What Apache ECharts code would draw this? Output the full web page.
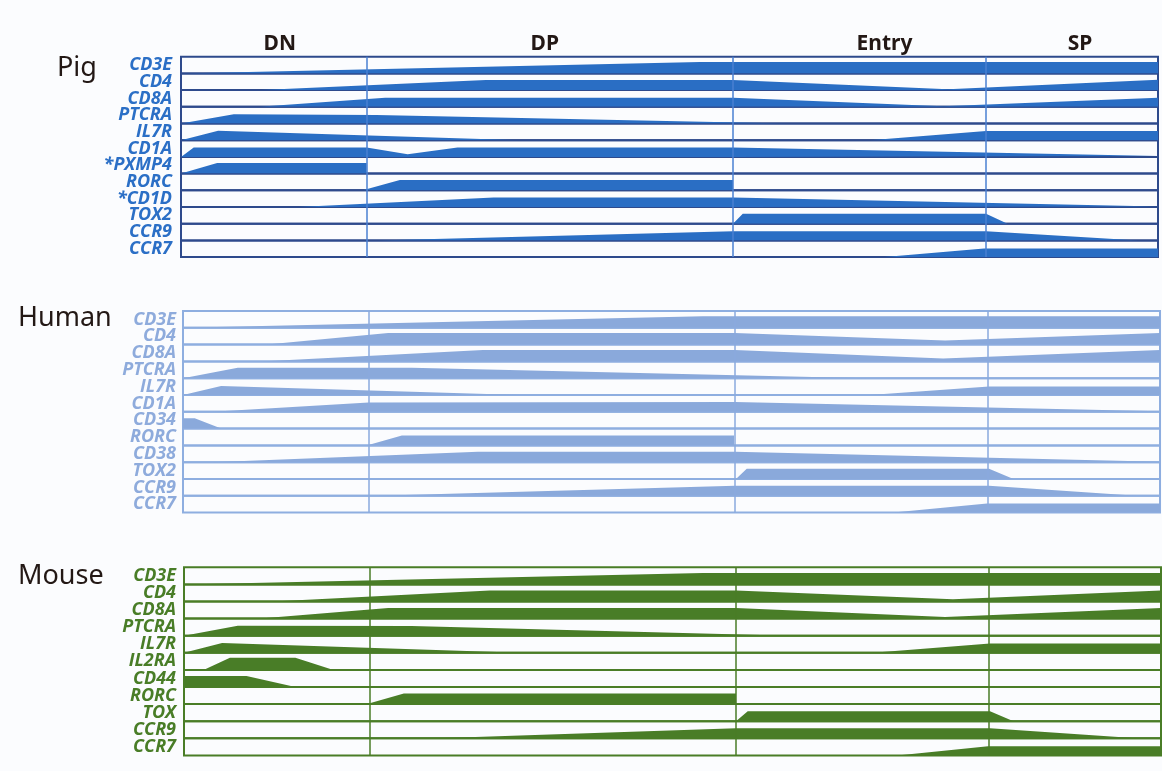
<!DOCTYPE html>
<html>
<head>
<meta charset="utf-8">
<script src="https://cdn.jsdelivr.net/npm/echarts@6/dist/echarts.min.js"></script>
<style>
html, body { margin: 0; background: #fbfcfe; }
#main { width: 1162px; height: 771px; }
</style>
</head>
<body>
<div id="main"></div>
<script>
// stages along pseudotime (0..100)
var stageNames = ['DN', 'DP', 'Entry', 'SP'];
var stageBreaks = [0, 19, 56.5, 82.4, 100];

// expression profiles: [pseudotime, relative level]
var pigGenes = ['CD3E', 'CD4', 'CD8A', 'PTCRA', 'IL7R', 'CD1A', '*PXMP4', 'RORC', '*CD1D', 'TOX2', 'CCR9', 'CCR7'];
var pigProfiles = [
    [[0, 0], [53.1, 1], [100, 1]],
    [[0, 0], [8, 0], [31.2, 0.88], [56.5, 0.88], [78.5, 0.08], [100, 0.9]],
    [[0, 0], [8, 0], [20.9, 0.78], [56.5, 0.78], [78, 0.05], [100, 0.78]],
    [[0, 0], [5.4, 0.8], [20, 0.75], [62, 0], [100, 0]],
    [[0, 0], [3.8, 0.83], [34.8, 0], [70.5, 0], [82.4, 0.8], [100, 0.8]],
    [[0, 0], [1.3, 0.82], [19, 0.82], [23.2, 0.23], [28.3, 0.82], [56.5, 0.82], [100, 0.08]],
    [[0, 0], [3.7, 0.92], [19, 0.92], [19, 0], [100, 0]],
    [[0, 0], [18.6, 0], [22.4, 0.9], [56.5, 0.9], [56.5, 0], [100, 0]],
    [[0, 0], [12, 0], [32, 0.83], [56.5, 0.83], [100, 0.05]],
    [[0, 0], [56.5, 0], [57.5, 0.87], [82.4, 0.87], [84.6, 0], [100, 0]],
    [[0, 0], [20, 0], [56.5, 0.8], [82.4, 0.8], [98, 0], [100, 0]],
    [[0, 0], [71.9, 0], [82.2, 0.75], [100, 0.75]]
];

var humanGenes = ['CD3E', 'CD4', 'CD8A', 'PTCRA', 'IL7R', 'CD1A', 'CD34', 'RORC', 'CD38', 'TOX2', 'CCR9', 'CCR7'];
var humanProfiles = [
    [[0, 0], [53.2, 1], [100, 1]],
    [[0, 0], [8.6, 0], [21, 1], [56.5, 1], [78, 0.35], [100, 1]],
    [[0, 0], [7.9, 0], [30.7, 1], [56.5, 1], [77.8, 0.25], [100, 1]],
    [[0, 0], [5.6, 0.9], [23.4, 0.9], [70, 0], [100, 0]],
    [[0, 0], [3.9, 0.78], [34.5, 0], [70.3, 0], [82.5, 0.75], [100, 0.75]],
    [[0, 0], [3, 0], [19, 0.8], [56.5, 0.85], [100, 0.05]],
    [[0, 0.9], [1.2, 0.9], [3.9, 0], [100, 0]],
    [[0, 0], [18.8, 0], [22.4, 0.87], [56.4, 0.87], [56.4, 0], [100, 0]],
    [[0, 0], [3, 0], [30.2, 0.9], [56.5, 0.9], [100, 0.05]],
    [[0, 0], [56.6, 0], [57.7, 0.9], [82.5, 0.9], [85, 0], [100, 0]],
    [[0, 0], [20, 0], [56.5, 0.87], [82.5, 0.87], [97.6, 0], [100, 0]],
    [[0, 0], [72.7, 0], [82.3, 0.8], [100, 0.8]]
];

var mouseGenes = ['CD3E', 'CD4', 'CD8A', 'PTCRA', 'IL7R', 'IL2RA', 'CD44', 'RORC', 'TOX', 'CCR9', 'CCR7'];
var mouseProfiles = [
    [[0, 0], [53.1, 1], [100, 1]],
    [[0, 0], [9.1, 0], [31.3, 0.95], [56.5, 0.95], [78.7, 0.2], [100, 0.95]],
    [[0, 0], [7.8, 0], [20.9, 0.92], [56.5, 0.92], [77.9, 0.15], [100, 0.92]],
    [[0, 0], [5.5, 0.87], [23.3, 0.85], [62, 0], [100, 0]],
    [[0, 0], [3.9, 0.85], [34.4, 0], [70.5, 0], [82.5, 0.8], [100, 0.8]],
    [[0, 0], [2, 0], [4.7, 1.05], [11.4, 1.05], [15.3, 0], [100, 0]],
    [[0, 0.95], [6.4, 0.95], [11.4, 0], [100, 0]],
    [[0, 0], [18.7, 0], [22.5, 0.93], [56.5, 0.93], [56.5, 0], [100, 0]],
    [[0, 0], [56.5, 0], [57.7, 0.87], [82.5, 0.87], [84.9, 0], [100, 0]],
    [[0, 0], [26, 0], [56.5, 0.87], [82.5, 0.87], [97.5, 0], [100, 0]],
    [[0, 0], [73, 0], [82.3, 0.8], [100, 0.8]]
];

var panels = [
    { name: 'Pig', genes: pigGenes, profiles: pigProfiles, left: 181, right: 4, top: 56.7, rowH: 16.7,
      fill: '#2a6ec4', border: '#2e4a8c', divider: '#4a80d2', label: '#2b6fc6', gap: 9, nameX: 57, nameY: 68, stages: true },
    { name: 'Human', genes: humanGenes, profiles: humanProfiles, left: 183, right: 2, top: 311, rowH: 16.8,
      fill: '#8aa9db', border: '#8eaee0', divider: '#8aaade', label: '#8eabdc', gap: 7, nameX: 18, nameY: 318, stages: false },
    { name: 'Mouse', genes: mouseGenes, profiles: mouseProfiles, left: 184, right: 1, top: 567.3, rowH: 17.1,
      fill: '#497d27', border: '#4a7d27', divider: '#4a7d27', label: '#497d27', gap: 8, nameX: 18, nameY: 576, stages: false }
];

var stageShift = [6, -5, 25, 8];

var chart = echarts.init(document.getElementById('main'), null, { renderer: 'canvas' });

var grids = [], xAxes = [], yAxes = [], series = [], texts = [];

panels.forEach(function (p) {
    p.genes.forEach(function (gene, i) {
        var g = grids.length;
        grids.push({
            left: p.left, right: p.right, top: p.top + i * p.rowH, height: p.rowH,
            show: true, borderColor: p.border, borderWidth: 2, backgroundColor: 'transparent'
        });
        xAxes.push({ gridIndex: g, type: 'value', min: 0, max: 100, show: false });
        yAxes.push({
            gridIndex: g, type: 'value', min: 0, max: p.rowH / 11.5,
            axisLine: { show: false }, axisTick: { show: false },
            axisLabel: { show: false }, splitLine: { show: false },
            name: gene, nameLocation: 'middle', nameRotate: 0, nameGap: p.gap,
            nameTextStyle: {
                align: 'right', verticalAlign: 'middle',
                fontFamily: 'Open Sans', fontStyle: 'italic', fontWeight: 'bold',
                fontSize: 18, color: p.label
            }
        });
        series.push({
            type: 'line', xAxisIndex: g, yAxisIndex: g,
            data: p.profiles[i],
            symbol: 'none', silent: true,
            lineStyle: { width: 0 },
            areaStyle: { color: p.fill, opacity: 1 }
        });
    });

    // overlay grid for the stage dividers (and stage titles on top panel)
    var o = grids.length;
    grids.push({ left: p.left, right: p.right, top: p.top, height: p.genes.length * p.rowH, show: false });
    xAxes.push({ gridIndex: o, type: 'value', min: 0, max: 100, show: false });
    yAxes.push({ gridIndex: o, type: 'value', min: 0, max: 1, show: false });
    var overlay = {
        type: 'line', xAxisIndex: o, yAxisIndex: o, z: 5,
        data: [], symbol: 'none', silent: true,
        markLine: {
            silent: true, symbol: 'none', animation: false,
            label: { show: false },
            lineStyle: { color: p.divider, width: 1.5, type: 'solid' },
            data: stageBreaks.slice(1, -1).map(function (v) { return { xAxis: v }; })
        }
    };
    if (p.stages) {
        overlay.markArea = {
            silent: true,
            itemStyle: { color: 'rgba(0,0,0,0)' },
            data: stageNames.map(function (s, k) {
                return [{
                    name: s, xAxis: stageBreaks[k],
                    label: {
                        show: true, position: 'top', distance: 2, offset: [stageShift[k], 0],
                        color: '#231815', fontFamily: 'Noto Sans', fontWeight: 'bold', fontSize: 21
                    }
                }, { xAxis: stageBreaks[k + 1] }];
            })
        };
    }
    series.push(overlay);

    texts.push({
        type: 'text', x: p.nameX, y: p.nameY,
        style: {
            text: p.name, fill: '#231815', verticalAlign: 'middle',
            font: '27px "Noto Sans"'
        }
    });
});

var option = {
    backgroundColor: '#fbfcfe',
    animation: false,
    grid: grids,
    xAxis: xAxes,
    yAxis: yAxes,
    series: series,
    graphic: texts
};

chart.setOption(option);
window.addEventListener('resize', chart.resize);
</script>
</body>
</html>
